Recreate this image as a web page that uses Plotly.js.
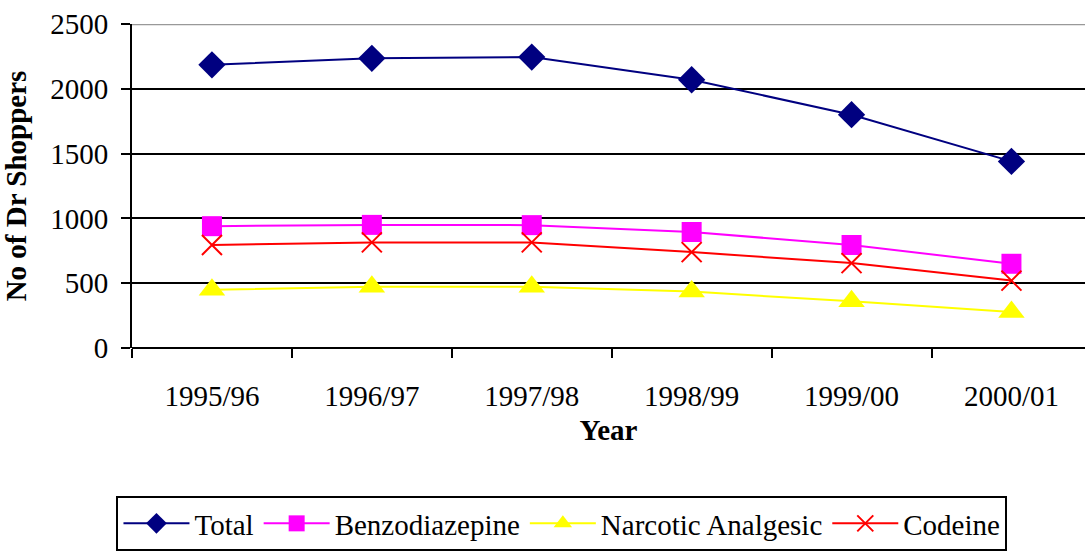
<!DOCTYPE html>
<html><head><meta charset="utf-8">
<script src="https://cdn.plot.ly/plotly-3.0.1.min.js"></script>
<style>html,body{margin:0;padding:0;overflow:hidden;background:#fff}</style>
</head><body>
<div id="chart" style="width:1085px;height:551px"></div>
<script>
var years = ["1995/96","1996/97","1997/98","1998/99","1999/00","2000/01"];
var total = [2185, 2235, 2245, 2070, 1800, 1440];
var benzodiazepine = [940, 950, 948, 895, 795, 650];
var narcotic = [450, 472, 472, 435, 360, 278];
var codeine = [795, 815, 815, 740, 655, 520];

var F = "Liberation Serif, Times New Roman, serif";
var traces = [
  {x: years, y: total, name: "Total", mode: "lines+markers",
   line: {color: "#000080", width: 2}, marker: {symbol: "diamond", size: 21, color: "#000080"}},
  {x: years, y: benzodiazepine, name: "Benzodiazepine", mode: "lines+markers",
   line: {color: "#FF00FF", width: 2}, marker: {symbol: "square", size: 20, color: "#FF00FF"}},
  {x: years, y: narcotic, name: "Narcotic Analgesic", mode: "lines+markers",
   line: {color: "#FFFF00", width: 2}, marker: {symbol: "triangle-up", size: 23, color: "#FFFF00"}},
  {x: years, y: codeine, name: "Codeine", mode: "lines+markers",
   line: {color: "#FF0000", width: 2}, marker: {symbol: "x-thin", size: 20, color: "#FF0000", line: {color: "#FF0000", width: 2}}}
];
var layout = {
  width: 1085, height: 551,
  margin: {l: 131.5, r: 0, t: 24, b: 197},
  paper_bgcolor: "#fff", plot_bgcolor: "#fff",
  font: {family: F, size: 29, color: "#000"},
  showlegend: true,
  xaxis: {type: "category", range: [-0.5, 5.46], tickson: "boundaries",
    ticks: "outside", ticklen: 9, tickwidth: 2, tickcolor: "#000",
    showline: false, showgrid: false, zeroline: false,
    ticklabelstandoff: 28,
    tickfont: {family: F, size: 29},
    title: {text: "<b>Year</b>", font: {family: F, size: 29}, standoff: 8}},
  yaxis: {range: [0, 2500], tickvals: [0,500,1000,1500,2000,2500],
    ticks: "outside", ticklen: 9, tickwidth: 2, tickcolor: "#000",
    showline: true, linecolor: "#000", linewidth: 2,
    gridcolor: "#000", gridwidth: 2, zeroline: true, zerolinecolor: "#000", zerolinewidth: 2,
    tickfont: {family: F, size: 29}, ticklabelstandoff: 7,
    title: {text: "<b>No of Dr Shoppers</b>", font: {family: F, size: 29}, standoff: 17}},
  legend: {orientation: "h", x: -0.0163, xanchor: "left", y: -0.4576, yanchor: "top",
    bordercolor: "#000", borderwidth: 2, font: {family: F, size: 29},
    itemwidth: 66, tracegroupgap: 0},
  shapes: [{type: "line", xref: "paper", yref: "y", x0: 0, x1: 1, y0: 2500, y1: 2500,
    line: {color: "#999", width: 2.5}, layer: "above"}]
};
Plotly.newPlot("chart", traces, layout, {displayModeBar: false, staticPlot: true});
</script>
</body></html>
